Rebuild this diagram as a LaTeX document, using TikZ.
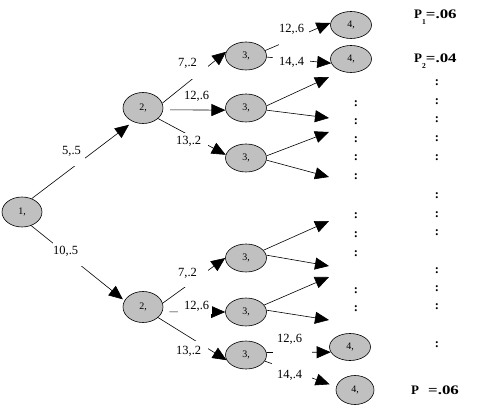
\documentclass[tikz,border=0pt]{standalone}
\usepackage{fontspec}
\usepackage{graphicx}
\setmainfont{Liberation Serif}
\usetikzlibrary{arrows.meta,shapes.geometric}
\definecolor{nodegray}{RGB}{192,192,192}
\begin{document}
\begin{tikzpicture}[x=1pt,y=-1pt,
  st/.style={ellipse,draw=black,fill=nodegray,line width=0.6pt,inner sep=0pt,font=\fontsize{10}{10}\selectfont},
  s1/.style={st,minimum width=40pt,minimum height=30pt},
  s2/.style={st,minimum width=40pt,minimum height=31pt},
  s3/.style={st,minimum width=41pt,minimum height=28pt},
  s4/.style={st,minimum width=41pt,minimum height=27pt},
  s4b/.style={st,minimum width=38pt,minimum height=29pt},
  arr/.style={draw=black,line width=0.6pt,-{Triangle[length=14pt,width=12pt]}},
  lbl/.style n args={3}{fill=white,inner sep=0pt,anchor=base west,align=left,
    text width=#1,text height=#2,text depth=#3,font=\fontsize{12.5}{13}\selectfont},
  dotc/.style={font=\fontsize{12.5}{12.5}\selectfont\bfseries,inner sep=0pt},
  pl/.style={font=\fontsize{13}{13}\selectfont\bfseries,inner sep=0pt,anchor=base west},
]
\useasboundingbox (0,0) rectangle (484,411);

% nodes
\node[s1] (n1) at (22,212) {1,};
\node[s2] (n2a) at (143,108) {2,};
\node[s2] (n2b) at (143,307) {2,};
\node[s3] (n3a) at (246,56) {3,};
\node[s3] (n3b) at (246,108) {3,};
\node[s3] (n3c) at (246,158) {3,};
\node[s3] (n3d) at (246,258) {3,};
\node[s3] (n3e) at (246,312) {3,};
\node[s3] (n3f) at (246,355) {3,};
\node[s4] (n4a) at (351,25) {4,};
\node[s4] (n4b) at (351,59) {4,};
\node[s4] (n4c) at (350,347) {4,};
\node[s4b] (n4d) at (355,390) {4,};

% free ends of the open arrows
\coordinate (t1) at (329,77);
\coordinate (t2) at (329,118);
\coordinate (t3) at (329,132);
\coordinate (t4) at (329,177);
\coordinate (t5) at (329,221);
\coordinate (t6) at (329,266);
\coordinate (t7) at (329,277);
\coordinate (t8) at (329,320);

% connectors
\draw[arr,shorten >=5pt] (n1.54) -- (n2a.234);
\draw[arr,shorten >=2pt] (n1.304) -- (n2b.161);
\draw[arr] (n2a.14) -- (n3a.168);
\draw[arr,shorten <=7pt] (n2a.-5) -- (n3b.186);
\draw[arr] (n2a.-35) -- (n3c.171);
\draw[arr] (n2b.11) -- (n3d.180);
\draw[arr,shorten <=7pt] (n2b.-14) -- (n3e.180);
\draw[arr] (n2b.-35) -- (n3f.195);
\draw[arr] (n3a.16) -- (n4a.174);
\draw[arr] (n3a.-3) -- (n4b.192);
\draw[arr] (n3f.7) -- (n4c.195);
\draw[arr,shorten >=7pt] (n3f.-18) -- (n4d.170);
\draw[arr] (n3b.6) -- (t1);
\draw[arr] (n3b.-6) -- (t2);
\draw[arr] (n3c.6) -- (t3);
\draw[arr] (n3c.-6) -- (t4);
\draw[arr] (n3d.24) -- (t5);
\draw[arr] (n3d.8) -- (t6);
\draw[arr] (n3e.21) -- (t7);
\draw[arr] (n3e.5) -- (t8);

% connector labels
\node[lbl={23pt}{11pt}{11pt}] (l1) at (62,155) {5,.5};
\node[lbl={31pt}{15pt}{11pt}] (l2) at (53,255) {10,.5};
\node[lbl={30pt}{11pt}{12pt}] (l3) at (178,67) {7,.2};
\node[lbl={25pt}{9pt}{3pt}] (l4) at (184,100) {12,.6};
\node[lbl={32pt}{12pt}{4pt}] (l5) at (176,145) {13,.2};
\node[lbl={30pt}{11pt}{10pt}] (l6) at (178,277) {7,.2};
\node[lbl={34pt}{12pt}{5pt}] (l7) at (178,309) {\hspace*{6pt}12,.6};
\node[lbl={32pt}{13pt}{4pt}] (l8) at (176,354) {13,.2};
\node[lbl={30pt}{10pt}{14pt}] (l9) at (279,33) {12,.6};
\node[lbl={37pt}{10pt}{6pt}] (l10) at (273,66) {\hspace*{6pt}14,.4};
\node[lbl={39pt}{12pt}{13pt}] (l11) at (273,342) {\hspace*{4pt}12,.6};
\node[lbl={40pt}{18pt}{5pt}] (l12) at (272,378) {\hspace*{5pt}14,.4};

% dot columns
\foreach \y [count=\i] in {104,122,140,158,177,216,235,254,291,309}
  \node[dotc] (da\i) at (356,\y) {:};
\foreach \y [count=\i] in {83,102,120,139,158,196,215,233,271,289,307,345}
  \node[dotc] (db\i) at (437,\y) {:};

% probabilities
\node[pl] (p1) at (414,19) {P\raisebox{-6pt}{\fontsize{7.5}{7.5}\selectfont 1}\scalebox{1.3}[1]{=.06}};
\node[pl] (p2) at (414,63) {P\raisebox{-6pt}{\fontsize{7.5}{7.5}\selectfont 2}\scalebox{1.3}[1]{=.04}};
\node[pl] (p3) at (411,394) {P\hspace{9pt}\scalebox{1.3}[1]{=.06}};
\end{tikzpicture}
\end{document}
